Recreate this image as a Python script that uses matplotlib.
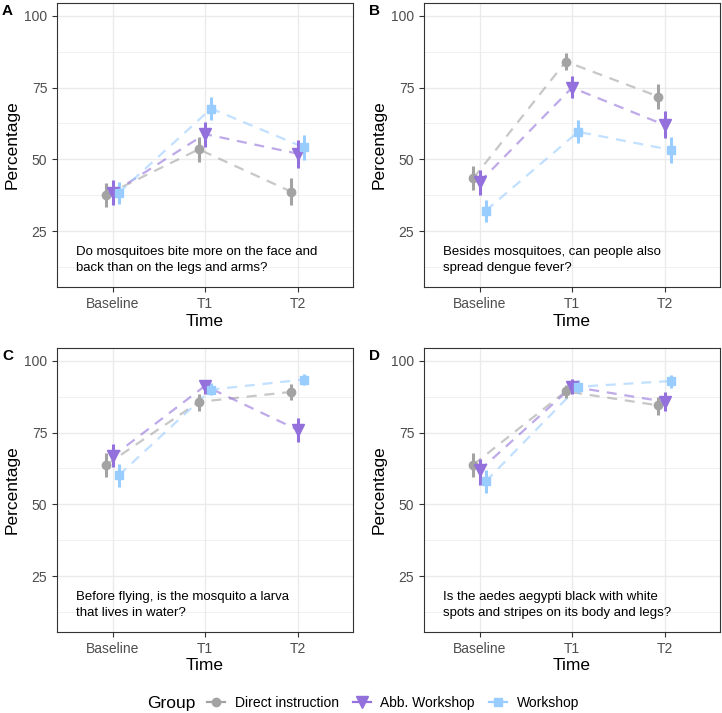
import numpy as np
import matplotlib
matplotlib.use("Agg")
import matplotlib.pyplot as plt
from matplotlib.lines import Line2D

plt.rcParams['font.family'] = ['Liberation Sans', 'DejaVu Sans']

times = ['Baseline', 'T1', 'T2']
groups = ['Direct instruction', 'Abb. Workshop', 'Workshop']
colors = ['#A3A3A3', '#9370DB', '#99CCFF']
markers = ['o', 'v', 's']
panel_labels = ['A', 'B', 'C', 'D']
questions = [
    'Do mosquitoes bite more on the face and\nback than on the legs and arms?',
    'Besides mosquitoes, can people also\nspread dengue fever?',
    'Before flying, is the mosquito a larva\nthat lives in water?',
    'Is the aedes aegypti black with white\nspots and stripes on its body and legs?',
]

# rows = groups (Direct, Abb., Workshop), cols = times
mean_A = [[37.7, 53.5, 38.7], [38.3, 58.8, 52.0], [38.3, 67.7, 54.2]]
lo_A = [[33.5, 49.2, 34.1], [34.1, 54.4, 46.9], [34.4, 63.7, 49.8]]
hi_A = [[41.9, 57.9, 43.4], [42.8, 63.1, 56.7], [42.2, 71.6, 58.5]]

mean_B = [[43.4, 84.1, 71.9], [42.0, 75.0, 62.0], [32.1, 59.6, 53.3]]
lo_B = [[39.3, 81.2, 67.4], [37.6, 71.3, 57.3], [28.3, 55.6, 48.6]]
hi_B = [[47.7, 87.2, 76.3], [46.3, 79.1, 66.9], [35.8, 63.7, 57.7]]

mean_C = [[63.8, 85.7, 89.2], [66.7, 91.3, 76.0], [60.1, 90.0, 93.5]]
lo_C = [[59.5, 82.6, 86.3], [63.0, 88.6, 71.7], [56.0, 88.0, 91.5]]
hi_C = [[67.9, 88.6, 92.1], [70.9, 93.5, 80.2], [64.2, 92.3, 95.6]]

mean_D = [[63.8, 89.4, 84.5], [61.8, 91.0, 85.8], [58.0, 91.0, 93.0]]
lo_D = [[59.5, 86.9, 81.0], [56.9, 88.6, 82.6], [54.0, 88.8, 90.7]]
hi_D = [[67.9, 91.5, 87.4], [65.9, 93.8, 89.2], [61.9, 93.3, 95.0]]

panels = [(mean_A, lo_A, hi_A), (mean_B, lo_B, hi_B),
          (mean_C, lo_C, hi_C), (mean_D, lo_D, hi_D)]

fig = plt.figure(figsize=(7.22, 7.13), dpi=100)
W, H = 722, 713
boxes = [(57, 3), (424, 3), (57, 348), (424, 348)]
pw, ph = 296, 284
offsets = [-0.067, 0.0, 0.067]
msizes = [6, 8, 5.5]

for k, ((left, top), (means, lo, hi)) in enumerate(zip(boxes, panels)):
    ax = fig.add_axes([left / W, 1 - (top + ph) / H, pw / W, ph / H])
    x = np.arange(1, 4)
    for g in range(3):
        xs = x + offsets[g]
        m = np.array(means[g])
        ax.plot(xs, m, color=colors[g], lw=1.6, alpha=0.6,
                linestyle=(0, (4.5, 3.5)), zorder=2)
        ax.vlines(xs, lo[g], hi[g], color=colors[g], lw=2.2, zorder=3)
        ax.plot(xs, m, linestyle='none', marker=markers[g], ms=msizes[g],
                color=colors[g], mec=colors[g], zorder=4)
    ax.set_xlim(0.4, 3.6)
    ax.set_ylim(5.5, 104.5)
    ax.set_xticks(x)
    ax.set_xticklabels(times)
    ax.set_yticks([25, 50, 75, 100])
    ax.set_yticks([12.5, 37.5, 62.5, 87.5], minor=True)
    ax.grid(which='major', color='#EBEBEB', lw=1.0, zorder=0)
    ax.grid(which='minor', color='#EBEBEB', lw=0.5, zorder=0)
    ax.tick_params(axis='both', which='major', labelsize=10, labelcolor='#4D4D4D',
                   color='#333333', length=3.5, width=0.8)
    ax.tick_params(axis='both', which='minor', length=0)
    for s in ax.spines.values():
        s.set_color('#333333')
        s.set_linewidth(0.8)
    ax.set_axisbelow(True)
    ax.set_xlabel('Time', fontsize=12.5, labelpad=2)
    ax.set_ylabel('Percentage', fontsize=12.5, labelpad=3)
    ax.text(0.6, 15, questions[k], fontsize=9.5, ha='left', va='center',
            linespacing=1.45)
    fig.text((left - 55) / W, 1 - (top + 1) / H, panel_labels[k],
             fontsize=11, fontweight='bold', ha='left', va='top')

handles = [Line2D([0], [0], color=colors[g], marker=markers[g], ms=msizes[g],
                  lw=1.6, linestyle='-') for g in range(3)]
fig.text(147 / W, 0.014, 'Group', fontsize=12.5, ha='left', va='center')
fig.legend(handles, groups, loc='center left', bbox_to_anchor=(207 / W, 0.014),
           ncol=3, frameon=False, fontsize=10, handlelength=1.3,
           handletextpad=0.7, columnspacing=1.0, borderpad=0, borderaxespad=0)

fig.savefig('out.png', dpi=100)
